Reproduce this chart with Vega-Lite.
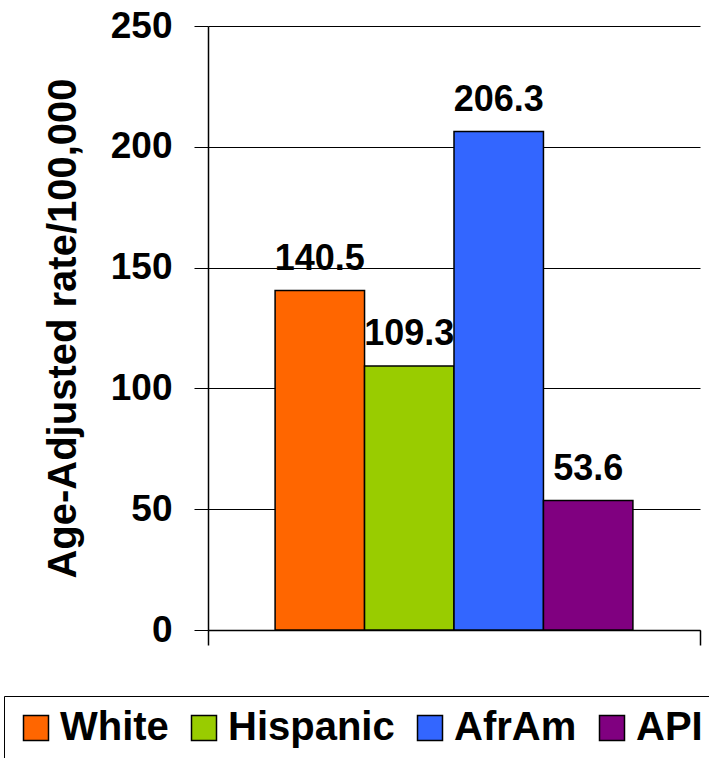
{
  "$schema": "https://vega.github.io/schema/vega-lite/v6.json",
  "width": 492,
  "height": 604,
  "autosize": {"type": "none"},
  "padding": {"left": 208, "top": 26, "right": 9, "bottom": 128},
  "background": "white",
  "config": {"view": {"stroke": null}, "font": "Liberation Sans"},
  "data": {
    "values": [
      {"group": "White", "rate": 140.5},
      {"group": "Hispanic", "rate": 109.3},
      {"group": "AfrAm", "rate": 206.3},
      {"group": "API", "rate": 53.6}
    ]
  },
  "layer": [
    {
      "layer": [
        {
          "mark": {"type": "bar", "stroke": "black", "strokeWidth": 1.5},
          "encoding": {
            "x": {
              "field": "group",
              "type": "nominal",
              "sort": ["White", "Hispanic", "AfrAm", "API"],
              "scale": {"type": "band", "paddingInner": 0, "paddingOuter": 0.75},
              "axis": null
            },
            "y": {
              "field": "rate",
              "type": "quantitative",
              "scale": {"domain": [0, 250], "nice": false},
              "axis": {
                "title": "Age-Adjusted rate/100,000",
                "values": [0, 50, 100, 150, 200, 250],
                "tickSize": 14,
                "tickColor": "black",
                "tickWidth": 1,
                "domainColor": "black",
                "domainWidth": 1.5,
                "labelFontSize": 37,
                "labelFontWeight": "bold",
                "labelColor": "black",
                "labelPadding": 22,
                "grid": true,
                "gridColor": "black",
                "gridWidth": 1,
                "gridOpacity": 1,
                "titleFontSize": 40,
                "titleFontWeight": "bold",
                "titleColor": "black",
                "titleX": -145,
                "titleY": 302,
                "titleAngle": -90,
                "titleBaseline": "middle",
                "titleAlign": "center"
              }
            },
            "color": {
              "field": "group",
              "type": "nominal",
              "scale": {
                "domain": ["White", "Hispanic", "AfrAm", "API"],
                "range": ["#FF6600", "#99CC00", "#3366FF", "#800080"]
              },
              "legend": {
                "orient": "none",
                "legendX": -204,
                "legendY": 670,
                "direction": "horizontal",
                "title": null,
                "symbolType": "square",
                "symbolSize": 625,
                "symbolStrokeColor": "black",
                "symbolStrokeWidth": 1.5,
                "symbolOpacity": 1,
                "labelFontSize": 40,
                "labelFontWeight": "bold",
                "labelColor": "black",
                "labelOffset": 4,
                "labelLimit": 0,
                "columnPadding": 15,
                "padding": 12,
                "strokeColor": "black",
                "fillColor": "white"
              }
            }
          }
        },
        {
          "mark": {"type": "text", "fontSize": 36, "fontWeight": "bold", "dy": -21, "baseline": "alphabetic", "color": "black"},
          "encoding": {
            "x": {"field": "group", "type": "nominal", "sort": ["White", "Hispanic", "AfrAm", "API"], "bandPosition": 0.5},
            "y": {"field": "rate", "type": "quantitative"},
            "text": {"field": "rate", "type": "quantitative", "format": ".1f"}
          }
        }
      ]
    },
    {
      "mark": {"type": "rule", "opacity": 0},
      "encoding": {
        "x": {
          "datum": 0,
          "type": "quantitative",
          "scale": {"domain": [0, 1]},
          "axis": {
            "orient": "bottom",
            "values": [0, 1],
            "labels": false,
            "title": null,
            "grid": false,
            "tickSize": 15,
            "tickColor": "black",
            "tickWidth": 1.5,
            "domainColor": "black",
            "domainWidth": 1.5
          }
        }
      }
    }
  ],
  "resolve": {"scale": {"x": "independent"}, "axis": {"x": "independent"}}
}
